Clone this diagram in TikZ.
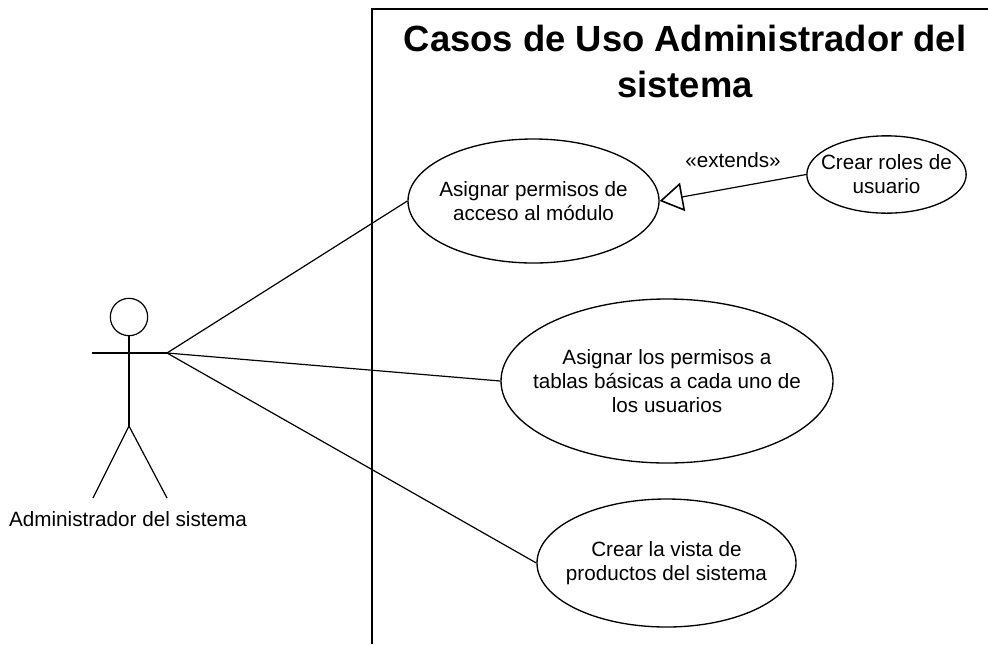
\documentclass[tikz,border=0pt]{standalone}
\usepackage{fontspec}
\setmainfont{Liberation Sans}
\usetikzlibrary{shapes.geometric,arrows.meta}
\tikzset{
 x=0.75pt,y=-0.75pt,
 uc/.style={draw=black,ellipse,line width=1pt,inner sep=0pt,align=center,font=\fontsize{15.5}{18}\selectfont},
 lbl/.style={inner sep=0pt,font=\fontsize{15.5}{18}\selectfont},
 assoc/.style={draw=black,line width=0.9pt},
 actorline/.style={draw=black,line width=0.9pt},
 extarrow/.style={draw=black,line width=0.9pt,-{Triangle[open,length=17.5pt,width=21.5pt,fill=white,line width=1.2pt]}},
}
\begin{document}
\begin{tikzpicture}
\useasboundingbox (0,0) rectangle (988,644);
\draw[line width=1.1pt] (372,644) -- (372,9) -- (988,9);
\node[inner sep=0pt,align=center,font=\fontsize{27.3}{34.5}\selectfont\bfseries] (title) at (685,61) {Casos de Uso Administrador del\\sistema};
\node[uc,inner xsep=-5.5pt,minimum width=188.25pt,minimum height=93pt] (e1) at (533.5,201) {Asignar permisos de\\acceso al módulo};
\node[uc,inner xsep=-8pt,minimum width=119.5pt,minimum height=58pt] (e4) at (886.5,174.5) {Crear roles de\\usuario};
\node[uc,inner xsep=-13pt,minimum width=249pt,minimum height=123pt] (e2) at (667,381) {Asignar los permisos a\\tablas básicas a cada uno de\\los usuarios};
\node[uc,inner xsep=-8pt,minimum width=194.25pt,minimum height=96pt] (e3) at (666.5,563) {Crear la vista de\\productos del sistema};
\node[lbl] (ext) at (733,160) {«extends»};
\node[draw=black,circle,line width=0.9pt,minimum size=28pt,inner sep=0pt] (head) at (129,317) {};
\coordinate (neck) at (head.south);
\coordinate (hip) at (129,426);
\coordinate (armL) at (92,353);
\coordinate (armR) at (167,353);
\coordinate (footL) at (93,498);
\coordinate (footR) at (167,498);
\draw[actorline] (neck) -- (hip);
\draw[actorline] (armL) -- (armR);
\draw[actorline] (footL) -- (hip) -- (footR);
\node[lbl] (actor) at (128,519) {Administrador del sistema};
\draw[assoc] (armR) -- (e1.west);
\draw[assoc] (armR) -- (e2.west);
\draw[assoc] (armR) -- (e3.west);
\draw[extarrow] (e4.west) -- (e1.east);
\end{tikzpicture}
\end{document}
